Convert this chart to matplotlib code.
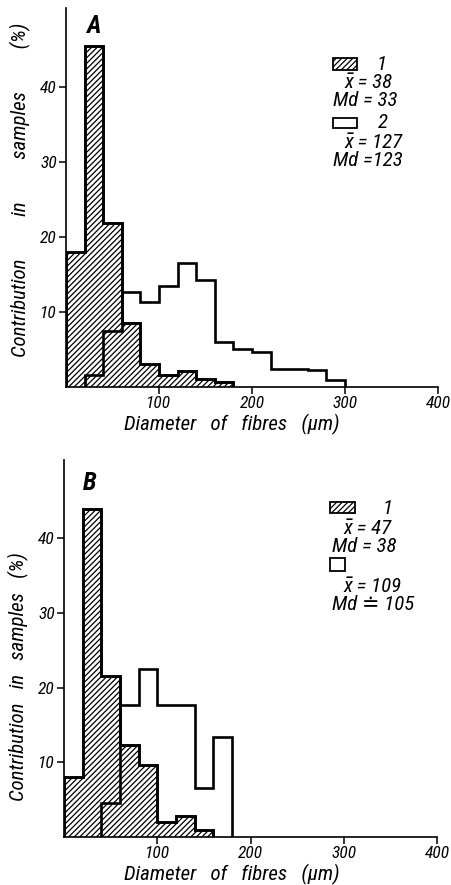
import numpy as np
import matplotlib.pyplot as plt
from matplotlib.patches import Rectangle

plt.rcParams['font.family'] = ['Roboto Condensed', 'DejaVu Sans']
plt.rcParams['font.style'] = 'italic'
plt.rcParams['hatch.linewidth'] = 0.9

# panel A, 20 um classes
edges_a1 = [0, 20, 40, 60, 80, 100, 120, 140, 160, 180]
vals_a1 = [18.0, 45.4, 21.8, 8.5, 3.0, 1.6, 2.1, 1.1, 0.7]
edges_a2 = [20, 40, 60, 80, 100, 120, 140, 160, 180, 200, 220, 240, 260, 280, 300]
vals_a2 = [1.6, 7.5, 12.7, 11.3, 13.4, 16.5, 14.2, 6.0, 5.0, 4.6, 2.4, 2.4, 2.2, 0.9]

# panel B
edges_b1 = [0, 20, 40, 60, 80, 100, 120, 140, 160]
vals_b1 = [8.0, 43.9, 21.6, 12.3, 9.6, 2.0, 2.8, 0.9]
edges_b2 = [40, 60, 80, 100, 120, 140, 160, 180]
vals_b2 = [4.5, 17.7, 22.5, 17.7, 17.7, 6.5, 13.4]

xticks = [100, 200, 300, 400]
yticks = [10, 20, 30, 40]

W, H = 451, 885
fig = plt.figure(figsize=(W / 100, H / 100), dpi=100)


def fx(x):
    return x / W


def fy(y):
    return 1 - y / H


def panel(left, top, right, bottom, e1, v1, e2, v2, xlab, ylab, xlab_y, ylab_x):
    ax = fig.add_axes([fx(left), fy(bottom), fx(right - left), (bottom - top) / H])
    ax.stairs(v1, e1, fill=True, facecolor='white', edgecolor='black',
              hatch='//////', linewidth=1.9, zorder=2)
    ax.stairs(v1, e1, fill=False, color='black', linewidth=1.9, zorder=3)
    ax.stairs(v2, e2, fill=False, color='black', linewidth=1.9, baseline=0, zorder=4)
    ax.set_xlim(0, 400)
    ax.set_ylim(0, 50.5)
    ax.set_xticks(xticks)
    ax.set_yticks(yticks)
    ax.tick_params(labelsize=12.5, length=5, width=1.1, direction='out', pad=1.5)
    for s in ['top', 'right']:
        ax.spines[s].set_visible(False)
    for s in ['left', 'bottom']:
        ax.spines[s].set_linewidth(1.2)
    ax.set_xlabel(xlab, fontsize=15)
    ax.set_ylabel(ylab, fontsize=15)
    ax.xaxis.set_label_coords(0.5, xlab_y)
    ax.yaxis.set_label_coords(ylab_x, 0.5)
    return ax


sp = ' '
axA = panel(66, 8, 438, 387, edges_a1, vals_a1, edges_a2, vals_a2,
            'Diameter' + sp * 3 + 'of' + sp * 3 + 'fibres' + sp * 3 + '(µm)',
            'Contribution' + sp * 9 + 'in' + sp * 9 + 'samples' + sp * 9 + '(%)',
            -0.072, -0.095)
axA.xaxis.label.set_x((232 - 66) / 372)
axA.yaxis.label.set_y((387 - 190) / 379)
axB = panel(64, 460, 437, 837, edges_b1, vals_b1, edges_b2, vals_b2,
            'Diameter' + sp * 3 + 'of' + sp * 3 + 'fibres' + sp * 3 + '(µm)',
            'Contribution' + sp * 3 + 'in' + sp * 3 + 'samples' + sp * 3 + '(%)',
            -0.072, -0.095)
axB.xaxis.label.set_x((232 - 64) / 373)
axB.yaxis.label.set_y((837 - 677) / 377)

fig.text(fx(93), fy(26), 'A', fontsize=18, fontweight='bold', ha='center', va='center')
fig.text(fx(90), fy(483), 'B', fontsize=18, fontweight='bold', ha='center', va='center')


def box(x0, y0, x1, y1, hatched):
    r = Rectangle((fx(x0), fy(y1)), fx(x1 - x0), (y1 - y0) / H, transform=fig.transFigure,
                  facecolor='white', edgecolor='black', linewidth=1.3,
                  hatch='//////' if hatched else None)
    fig.patches.append(r)


def txt(x, y, s, ha='left'):
    fig.text(fx(x), fy(y), s, fontsize=15, ha=ha, va='center')


xbar = 'x\u0304'

# legend A
box(333, 58, 357, 70, True)
txt(382, 64, '1', ha='center')
txt(344, 82, xbar + ' = 38')
txt(333, 101, 'Md = 33')
box(333, 118, 357, 128, False)
txt(383, 123, '2', ha='center')
txt(344, 142, xbar + ' = 127')
txt(333, 161, 'Md =123')

# legend B
box(330, 502, 355, 513, True)
txt(388, 509, '1', ha='center')
txt(343, 528, xbar + ' = 47')
txt(332, 547, 'Md = 38')
box(330, 558, 345, 571, False)
txt(343, 586, xbar + ' = 109')
txt(332, 605, 'Md \u2250 105')

fig.savefig('out.png', dpi=100)
